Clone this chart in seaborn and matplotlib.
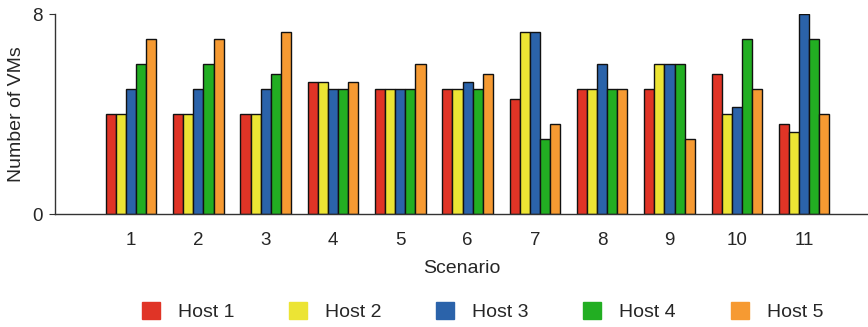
import pandas as pd
import matplotlib.pyplot as plt
import seaborn as sns

scenarios = ['1', '2', '3', '4', '5', '6', '7', '8', '9', '10', '11']
host1 = [4, 4, 4, 5.3, 5, 5, 4.6, 5, 5, 5.6, 3.6]
host2 = [4, 4, 4, 5.3, 5, 5, 7.3, 5, 6, 4, 3.3]
host3 = [5, 5, 5, 5, 5, 5.3, 7.3, 6, 6, 4.3, 8]
host4 = [6, 6, 5.6, 5, 5, 5, 3, 5, 6, 7, 7]
host5 = [7, 7, 7.3, 5.3, 6, 5.6, 3.6, 5, 3, 5, 4]

hosts = ['Host 1', 'Host 2', 'Host 3', 'Host 4', 'Host 5']
colors = ['#e03426', '#ece434', '#2b63aa', '#22ae22', '#f69a32']

rows = []
for name, vals in zip(hosts, [host1, host2, host3, host4, host5]):
    for s, v in zip(scenarios, vals):
        rows.append({'Scenario': s, 'Host': name, 'VMs': v})
df = pd.DataFrame(rows)

sns.set_style('white')
plt.rcParams['font.family'] = ['Liberation Sans', 'DejaVu Sans']

fig = plt.figure(figsize=(8.68, 3.27), dpi=100)
ax = fig.add_axes([0.0634, 0.345, 0.9366, 0.612])

sns.barplot(data=df, x='Scenario', y='VMs', hue='Host', palette=colors,
            width=0.75, edgecolor='#111111', linewidth=1, saturation=1,
            errorbar=None, ax=ax, legend=False)

ax.set_xlim(-1.13, 10.95)
ax.set_ylim(0, 8)
ax.set_yticks([0, 8])
ax.set_xlabel('Scenario', fontsize=14, labelpad=8)
ax.set_ylabel('Number of VMs', fontsize=14, labelpad=5)
ax.tick_params(axis='x', length=5, color='#555555', labelsize=13.5, pad=8)
ax.tick_params(axis='y', length=4, color='#333333', labelsize=13.5, left=True, pad=5)
sns.despine(ax=ax, top=True, right=True)
for sp in ['left', 'bottom']:
    ax.spines[sp].set_color('#333333')
    ax.spines[sp].set_linewidth(1)

handles = [plt.Rectangle((0, 0), 1, 1, color=c) for c in colors]
fig.legend(handles, hosts, loc='center', bbox_to_anchor=(0.556, 0.046),
           ncol=5, frameon=False, fontsize=14, handlelength=0.93,
           handleheight=0.93, columnspacing=2.8, handletextpad=0.93)

fig.savefig('out.png', dpi=100)
